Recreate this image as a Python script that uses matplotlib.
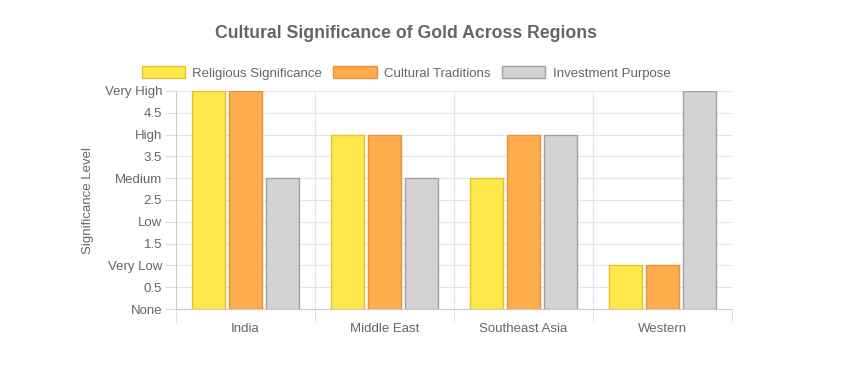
import numpy as np
import matplotlib.pyplot as plt
from matplotlib.patches import Patch

# data
regions = ['India', 'Middle East', 'Southeast Asia', 'Western']
religious = [5, 4, 3, 1]
cultural = [5, 4, 4, 1]
investment = [3, 3, 4, 5]
series_names = ['Religious Significance', 'Cultural Traditions', 'Investment Purpose']
ytick_vals = [0, 0.5, 1, 1.5, 2, 2.5, 3, 3.5, 4, 4.5, 5]
ytick_labels = ['None', '0.5', 'Very Low', '1.5', 'Low', '2.5', 'Medium', '3.5', 'High', '4.5', 'Very High']

fills = ['#ffe84c', '#ffad4c', '#d3d3d3']
edges = ['#e6c229', '#e8913a', '#a0a0a0']
txt = '#666666'
fs = 9.5

plt.rcParams['font.family'] = ['Liberation Sans', 'DejaVu Sans']

fig = plt.figure(figsize=(8.68, 3.72), dpi=100)
ax = fig.add_axes([176/868, 1-309/372, (732-176)/868, (309-91)/372])

x = np.arange(len(regions))
w = 0.8 / 3 * 0.9
for i, vals in enumerate([religious, cultural, investment]):
    ax.bar(x + (i - 1) * 0.8 / 3, vals, width=w, color=fills[i], edgecolor=edges[i],
           linewidth=1, zorder=3)

ax.set_xlim(-0.5, len(regions) - 0.5)
ax.set_ylim(0, 5)
ax.set_yticks(ytick_vals)
ax.set_yticklabels(ytick_labels, color=txt, fontsize=fs)
ax.set_xticks(x)
ax.set_xticklabels(regions, color=txt, fontsize=fs)
ax.set_xticks(np.arange(len(regions) + 1) - 0.5, minor=True)
ax.tick_params(axis='x', which='major', length=0, pad=10)
ax.tick_params(axis='x', which='minor', length=9, color='#dddddd')
ax.tick_params(axis='y', length=8, color='#dddddd', pad=2)
ax.grid(True, axis='y', color='#e5e5e5', linewidth=0.8, zorder=0)
ax.grid(True, axis='x', which='minor', color='#e5e5e5', linewidth=0.8, zorder=0)
for s in ['top', 'right']:
    ax.spines[s].set_visible(False)
ax.spines['left'].set_color('#cccccc')
ax.spines['bottom'].set_color('#cccccc')
ax.set_ylabel('Significance Level', color=txt, fontsize=fs, labelpad=8)

fig.text(406/868, 1-33/372, 'Cultural Significance of Gold Across Regions', ha='center',
         va='center', fontsize=12.7, fontweight='bold', color=txt)

handles = [Patch(facecolor=fills[i], edgecolor=edges[i], label=series_names[i]) for i in range(3)]
fig.legend(handles=handles, loc='center', bbox_to_anchor=(406/868, 1-73/372), ncol=3,
           frameon=False, fontsize=fs, handlelength=3.3, handleheight=1.0,
           columnspacing=0.85, handletextpad=0.55, labelcolor=txt)

fig.savefig('out.png', dpi=100)
